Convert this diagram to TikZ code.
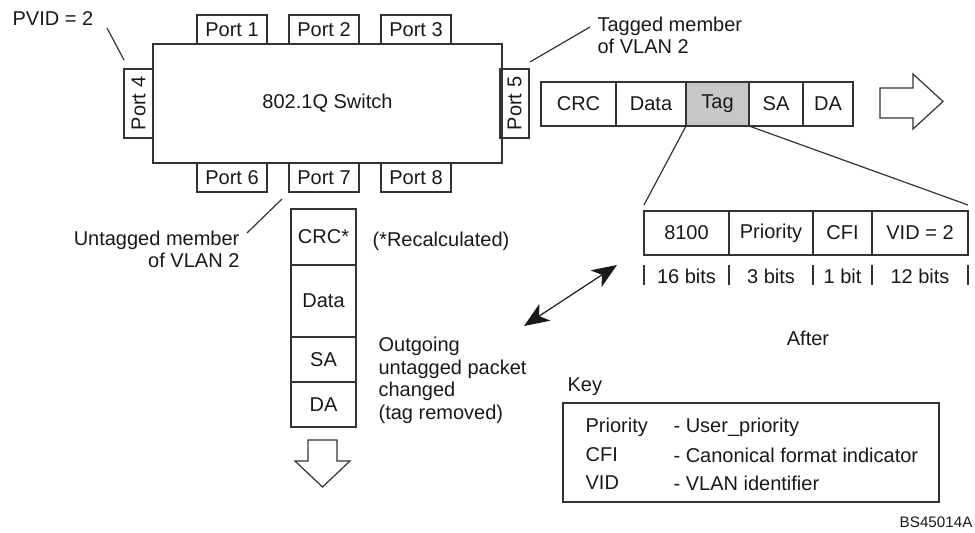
\documentclass[tikz,border=0pt]{standalone}
\usepackage{fontspec}
\setmainfont{Liberation Sans}
\usetikzlibrary{positioning,calc,arrows.meta}

\begin{document}
\begin{tikzpicture}[x=0.5pt,y=-0.5pt,line width=0.6pt,
    font=\fontsize{10}{11.2}\selectfont,text=black!90]
    % `port' is used for the eight switch ports, `vport' for the side ones.
    % `field' is used for the fields of a frame laid out left to right,
    % `vfield' for the fields of the frame laid out top to bottom.
    % `outline' is used for the two hollow arrows.
    \tikzstyle{port} = [draw=black!80,minimum width=35pt,minimum height=14.5pt,inner sep=0pt,outer sep=0pt]
    \tikzstyle{vport} = [port,rotate=90,minimum width=34.5pt]
    \tikzstyle{field} = [draw=black!80,minimum height=22pt,inner sep=0pt,outer sep=0pt]
    \tikzstyle{vfield} = [draw=black!80,minimum width=32.5pt,inner sep=0pt,outer sep=0pt]
    \tikzstyle{label} = [inner sep=0pt]
    \tikzstyle{outline} = [draw=black!80,fill=white,line join=miter]
    \useasboundingbox (0,0) rectangle (975,533);
    %
    % The switch and its ports.
    \node[draw=black!80,minimum width=174.5pt,minimum height=59.5pt,outer sep=0pt] (switch) at (327.5,103.5) {802.1Q Switch};
    \node[port,anchor=south] (p1) at (232,44) {Port 1};
    \node[port,anchor=south] (p2) at (324,44) {Port 2};
    \node[port,anchor=south] (p3) at (416,44) {Port 3};
    \node[vport] (p4) at (138.5,103.5) {Port 4};
    \node[vport] (p5) at (514.5,103.5) {Port 5};
    \node[port,anchor=north] (p6) at (232,163) {Port 6};
    \node[port,anchor=north] (p7) at (324,163) {Port 7};
    \node[port,anchor=north] (p8) at (416,163) {Port 8};
    %
    % Port labels and their leaders.
    \node[label,anchor=west] (pvid) at (12,19) {PVID = 2};
    \node[label,anchor=north west,align=left] (tagged) at (597,16.5) {Tagged member\\of VLAN 2};
    \node[label,anchor=north east,align=right] (untagged) at (240,230.5) {Untagged member\\of VLAN 2};
    \coordinate (pvidA) at (107,28);   \coordinate (pvidB) at (124,60);
    \coordinate (tagA) at (590,27);    \coordinate (tagB) at (530,62);
    \coordinate (untagA) at (247,233); \coordinate (untagB) at (282,199);
    \draw[black!80] (pvidA) -- (pvidB)  (tagA) -- (tagB)  (untagA) -- (untagB);
    %
    % Tagged frame leaving port 5.
    \node[field,minimum width=37.5pt,anchor=west] (tcrc) at (541,104) {CRC};
    \node[field,minimum width=35pt,right=0pt of tcrc] (tdata) {Data};
    \node[field,minimum width=31.5pt,fill=black!22,right=0pt of tdata] (ttag) {Tag};
    \node[field,minimum width=27pt,right=0pt of ttag] (tsa) {SA};
    \node[field,minimum width=25pt,right=0pt of tsa] (tda) {DA};
    \draw[outline] (880,88) -- (913,88) -- (913,74) -- (943,101.5) -- (913,129) -- (913,118) -- (880,118) -- cycle;
    %
    % The tag, opened up.
    \node[field,minimum width=42.5pt,anchor=west] (a8100) at (644,233) {8100};
    \node[field,minimum width=42pt,right=0pt of a8100] (aprio) {Priority};
    \node[field,minimum width=29.5pt,right=0pt of aprio] (acfi) {CFI};
    \node[field,minimum width=48pt,right=0pt of acfi] (avid) {VID = 2};
    \draw[black!80] (ttag.south west) -- ($(a8100.north west)+(0,-6)$)
                    (ttag.south east) -- ($(avid.north east)+(0,-6)$);
    \node (b8100) at ($(a8100.south)+(0,21)$) {16 bits};
    \node (bprio) at ($(aprio.south)+(0,21)$) {3 bits};
    \node (bcfi) at ($(acfi.south)+(0,21)$) {1 bit};
    \node (bvid) at ($(avid.south)+(0,21)$) {12 bits};
    \draw[black!80] ($(a8100.south west)+(0,10)$) -- ++(0,20)
                    ($(aprio.south west)+(0,10)$) -- ++(0,20)
                    ($(acfi.south west)+(0,10)$) -- ++(0,20)
                    ($(avid.south west)+(0,10)$) -- ++(0,20)
                    ($(avid.south east)+(0,10)$) -- ++(0,20);
    \node (after) at (808,338) {After};
    %
    % Untagged frame leaving port 7.
    \node[vfield,minimum height=28pt,anchor=north] (ucrc) at (323.5,209) {CRC*};
    \node[vfield,minimum height=36pt,below=0pt of ucrc] (udata) {Data};
    \node[vfield,minimum height=22.5pt,below=0pt of udata] (usa) {SA};
    \node[vfield,minimum height=22.5pt,below=0pt of usa] (uda) {DA};
    \node[label,anchor=west] (recalc) at (372,241) {(*Recalculated)};
    \node[label,anchor=north west,align=left,font=\fontsize{10}{11.35}\selectfont] (outgoing) at (378,336.5) {Outgoing\\untagged packet\\changed\\(tag removed)};
    \draw[outline] (308,440) -- (337,440) -- (337,461) -- (350,461) -- (322.5,487) -- (295,461) -- (308,461) -- cycle;
    %
    % Both frames are the same packet.
    \coordinate (dblA) at (617,265);
    \coordinate (dblB) at (524,326);
    \draw[black!90,{Stealth[length=12.5pt,width=10pt,inset=3.5pt]}-{Stealth[length=12.5pt,width=10pt,inset=3.5pt]}] (dblA) -- (dblB);
    %
    % Key.
    \node[label,anchor=west] (keylbl) at (567,387) {Key};
    \node[draw=black!80,minimum width=188pt,minimum height=49.5pt,anchor=north west,outer sep=0pt] (keybox) at (563,403) {};
    \node[label,anchor=west] (k1) at (585,427) {Priority};
    \node[label,anchor=west] (k2) at (585,455) {CFI};
    \node[label,anchor=west] (k3) at (585,483) {VID};
    \node[label,anchor=west] (d1) at (673,427) {- User\_priority};
    \node[label,anchor=west] (d2) at (673,455) {- Canonical format indicator};
    \node[label,anchor=west] (d3) at (673,483) {- VLAN identifier};
    \node[label,anchor=east,font=\fontsize{7.6}{9}\selectfont] (figid) at (973,522) {BS45014A};
\end{tikzpicture}
\end{document}
